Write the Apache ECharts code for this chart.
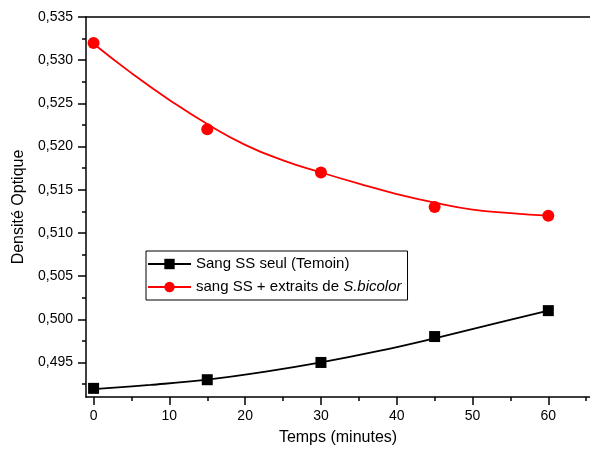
<!DOCTYPE html>
<html>
<head>
<meta charset="utf-8">
<script src="https://cdn.jsdelivr.net/npm/echarts@6/dist/echarts.min.js"></script>
<style>html,body{margin:0;padding:0;background:#fff;}#c{width:590px;height:453px;}</style>
</head>
<body>
<div id="c"></div>
<script>
// ---- data ----
const timeMinutes = [0, 15, 30, 45, 60];
const temoinValues = [0.492, 0.493, 0.495, 0.498, 0.501];
const extraitValues = [0.532, 0.522, 0.517, 0.513, 0.512];
// fitted curves
const temoinFitX = [0, 7.5, 15, 22.5, 30, 37.5, 45, 52.5, 60];
const temoinFitY = [0.4919, 0.4924, 0.4930, 0.4939, 0.4950, 0.4963, 0.4978, 0.4994, 0.5010];
const extraitFitX = [0, 5, 10, 15, 20, 25, 30, 35, 40, 45, 50, 55, 60];
const extraitFitY = [0.5319, 0.5285, 0.5254, 0.5226, 0.5202, 0.5184, 0.5170, 0.5157, 0.5145, 0.5135, 0.5127, 0.5123, 0.5120];
const xTicks = [0, 10, 20, 30, 40, 50, 60];
const xMinorTicks = [5, 15, 25, 35, 45, 55, 65];
const yTicks = [0.495, 0.500, 0.505, 0.510, 0.515, 0.520, 0.525, 0.530, 0.535];
const yMinorTicks = [0.4925, 0.4975, 0.5025, 0.5075, 0.5125, 0.5175, 0.5225, 0.5275, 0.5325];
const nameTemoin = 'Sang SS seul (Temoin)';
const nameExtrait = 'sang SS + extraits de S.bicolor';

const zip = (a, b) => a.map((v, i) => [v, b[i]]);
const FONT = '"Liberation Sans", Arial, sans-serif';
const X_MIN = -1, X_MAX = 65.5, Y_MIN = 0.491, Y_MAX = 0.535;
const lineOn = { show: true, onZero: false, lineStyle: { color: '#000', width: 1.5 } };
const lineOff = { show: false, onZero: false };
const noLabel = { show: false };
const noSplit = { show: false };

function tickAxis(position, min, max, values, len) {
  return {
    type: 'value', position: position, min: min, max: max,
    axisLine: lineOff,
    axisTick: { show: true, customValues: values, length: len, inside: false, lineStyle: { color: '#000', width: 1.5 } },
    axisLabel: noLabel, splitLine: noSplit
  };
}

const chart = echarts.init(document.getElementById('c'), null, { renderer: 'canvas' });
chart.setOption({
  backgroundColor: '#fff',
  animation: false,
  grid: { left: 86, right: -2, top: 17, bottom: 56 },
  legend: {
    data: [nameTemoin, nameExtrait],
    orient: 'vertical',
    left: 146, top: 251,
    padding: [5, 6, 5, 1],
    itemGap: 7,
    itemWidth: 43, itemHeight: 13,
    borderColor: '#000', borderWidth: 1,
    backgroundColor: '#fff',
    textStyle: {
      fontFamily: FONT, fontSize: 15, color: '#000', lineHeight: 16,
      rich: {
        n: { fontFamily: FONT, fontSize: 15, color: '#000' },
        i: { fontFamily: FONT, fontSize: 15, color: '#000', fontStyle: 'italic' }
      }
    },
    formatter: function (name) {
      if (name === nameExtrait) return '{n|sang SS + extraits de }{i|S.bicolor}';
      return '{n|' + name + '}';
    }
  },
  xAxis: [
    {
      type: 'value', position: 'bottom', min: X_MIN, max: X_MAX,
      axisLine: lineOn,
      axisTick: { show: false },
      axisLabel: { customValues: xTicks, margin: 12, fontFamily: FONT, fontSize: 14, color: '#000' },
      splitLine: noSplit,
      name: 'Temps (minutes)', nameLocation: 'middle', nameGap: 33,
      nameTextStyle: { fontFamily: FONT, fontSize: 16, color: '#000' }
    },
    tickAxis('bottom', X_MIN, X_MAX, xTicks, 8),
    tickAxis('bottom', X_MIN, X_MAX, xMinorTicks, 4),
    {
      type: 'value', position: 'top', min: X_MIN, max: X_MAX,
      axisLine: lineOn, axisTick: { show: false }, axisLabel: noLabel, splitLine: noSplit
    }
  ],
  yAxis: [
    {
      type: 'value', position: 'left', min: Y_MIN, max: Y_MAX,
      axisLine: lineOn,
      axisTick: { show: false },
      axisLabel: {
        customValues: yTicks, margin: 13, fontFamily: FONT, fontSize: 14, color: '#000',
        formatter: v => v.toFixed(3).replace('.', ',')
      },
      splitLine: noSplit,
      name: 'Densité Optique', nameLocation: 'middle', nameGap: 58,
      nameTextStyle: { fontFamily: FONT, fontSize: 16, color: '#000' }
    },
    tickAxis('left', Y_MIN, Y_MAX, yTicks, 8),
    tickAxis('left', Y_MIN, Y_MAX, yMinorTicks, 4)
  ],
  series: [
    {
      name: nameTemoin, type: 'line', xAxisIndex: 0, yAxisIndex: 0,
      data: zip(temoinFitX, temoinFitY), smooth: 0.4, showSymbol: false,
      symbol: 'rect', itemStyle: { color: '#000' },
      lineStyle: { color: '#000', width: 1.8 }, z: 2
    },
    {
      name: nameExtrait, type: 'line', xAxisIndex: 0, yAxisIndex: 0,
      data: zip(extraitFitX, extraitFitY), smooth: 0.5, showSymbol: false,
      symbol: 'circle', itemStyle: { color: '#ff0000' },
      lineStyle: { color: '#ff0000', width: 1.8 }, z: 2
    },
    {
      name: 'temoin-points', type: 'scatter', xAxisIndex: 0, yAxisIndex: 0,
      data: zip(timeMinutes, temoinValues), symbol: 'rect', symbolSize: 11,
      itemStyle: { color: '#000', opacity: 1 }, z: 3
    },
    {
      name: 'extrait-points', type: 'scatter', xAxisIndex: 0, yAxisIndex: 0,
      data: zip(timeMinutes, extraitValues), symbol: 'circle', symbolSize: 12,
      itemStyle: { color: '#ff0000', opacity: 1 }, z: 3
    }
  ]
});
</script>
</body>
</html>
